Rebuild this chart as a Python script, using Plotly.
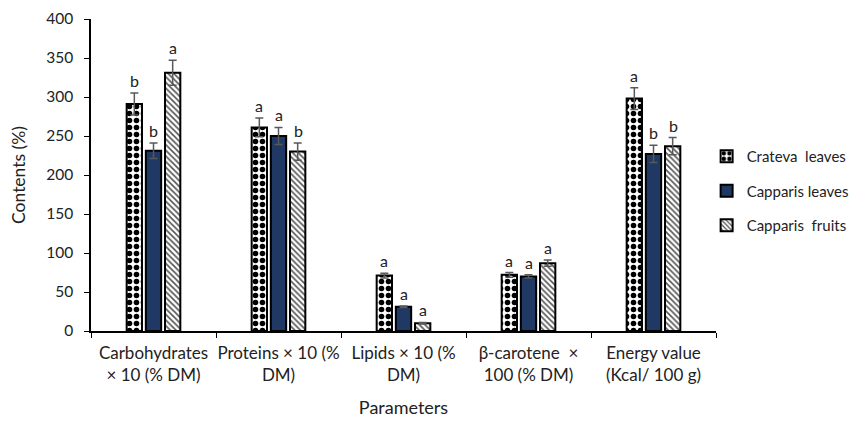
import plotly.graph_objects as go

categories = ["Carbohydrates<br>× 10 (% DM)", "Proteins × 10 (%<br>DM)", "Lipids × 10 (%<br>DM)",
              "β-carotene  ×<br>100 (% DM)", "Energy value<br>(Kcal/ 100 g)"]
series_names = ["Crateva  leaves", "Capparis leaves", "Capparis  fruits"]
crateva = [291, 261, 71, 72, 298]
capparis_leaves = [231, 250, 31, 70, 227]
capparis_fruits = [331, 230, 10, 87, 237]
crateva_err = [14, 12, 3, 3, 14]
capparis_leaves_err = [10, 11, 1, 2, 11]
capparis_fruits_err = [16, 11, 1, 4, 11]
crateva_sig = ["b", "a", "a", "a", "a"]
capparis_leaves_sig = ["b", "a", "a", "a", "b"]
capparis_fruits_sig = ["a", "b", "a", "a", "b"]

values = [crateva, capparis_leaves, capparis_fruits]
errors = [crateva_err, capparis_leaves_err, capparis_fruits_err]
sigs = [crateva_sig, capparis_leaves_sig, capparis_fruits_sig]

styles = [
    dict(color="white", pattern=dict(shape=".", fgcolor="black", fgopacity=1, size=7, solidity=0.5,
                                     fillmode="overlay")),
    dict(color="#1F3864"),
    dict(color="white", pattern=dict(shape="\\", fgcolor="#555555", fgopacity=1, size=4, solidity=0.4,
                                     fillmode="overlay")),
]

FONT = "Lato, Carlito, Calibri, sans-serif"
fig = go.Figure()
for i, (name, v, e, st) in enumerate(zip(series_names, values, errors, styles)):
    fig.add_trace(go.Bar(
        x=categories, y=v, name=name, legendgroup=f"g{i}",
        marker=dict(**st, line=dict(color="black", width=2)),
        error_y=dict(type="data", array=e, visible=True, color="#595959", thickness=1.5, width=4),
    ))

shifts = [-19.5, 0, 19.5]
for v, e, s, sh in zip(values, errors, sigs, shifts):
    for c, val, err, lab in zip(categories, v, e, s):
        fig.add_annotation(x=c, y=val + err, text=lab, showarrow=False, xshift=sh,
                           yanchor="bottom", yshift=1, font=dict(size=16, color="#222", family=FONT))

fig.update_layout(
    width=848, height=410,
    margin=dict(l=83, r=140, t=11, b=87, autoexpand=False),
    paper_bgcolor="white", plot_bgcolor="white",
    barmode="group", bargap=0.54, bargroupgap=0.2,
    font=dict(family=FONT, size=15, color="#222"),
    legend=dict(x=0.985, y=0.449, xanchor="left", yanchor="middle", font=dict(size=15),
                itemwidth=30, traceorder="grouped", tracegroupgap=12, bgcolor="rgba(0,0,0,0)"),
    showlegend=True,
)
fig.update_xaxes(showline=True, linecolor="black", linewidth=1.5, ticks="outside", tickson="boundaries",
                 ticklen=5, tickcolor="black", showgrid=False, ticklabelstandoff=6, tickangle=0,
                 automargin=False,
                 title=dict(text="Parameters", font=dict(size=18), standoff=34), tickfont=dict(size=17))
fig.update_yaxes(range=[0, 400], dtick=50, showline=True, linecolor="black", linewidth=1.5, ticks="outside",
                 ticklen=5, tickcolor="black", showgrid=False, zeroline=False, ticklabelstandoff=8,
                 automargin=False,
                 title=dict(text="Contents (%)", font=dict(size=17.5), standoff=16), tickfont=dict(size=15.5))

fig.write_html("out.html")
